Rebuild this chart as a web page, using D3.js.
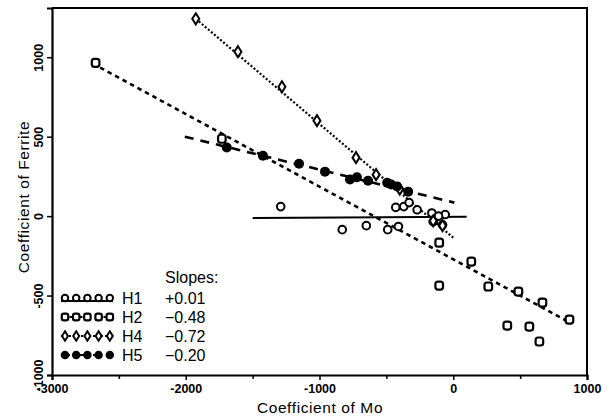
<!DOCTYPE html>
<html><head><meta charset="utf-8">
<script src="https://cdn.jsdelivr.net/npm/d3@7"></script>
<style>body{margin:0;background:#fff}svg{display:block}text{font-family:"Liberation Sans",Arial,sans-serif;fill:#000}</style>
</head><body><svg id="c" width="612" height="418"></svg>
<script>
// ---- data ----
const xTicks = [-3000, -2000, -1000, 0, 1000];
const xMinorTicks = [-2500, -1500, -500, 500];
const yTicks = [-1000, -500, 0, 500, 1000];
const seriesNames = ["H1", "H2", "H4", "H5"];
const slopeLabels = ["+0.01", "-0.48", "-0.72", "-0.20"];

const h1Mo = [-1290, -830, -650, -490, -410, -430, -370, -330, -270, -160, -60, -150, -80, -110];
const h1Fe = [60, -85, -60, -85, -65, 55, 60, 85, 40, 20, 10, -35, -55, 0];

const h2Mo = [-2674, -1730, -105, -105, 135, 262, 487, 667, 404, 569, 644, 869];
const h2Fe = [965, 487, -167, -437, -286, -443, -475, -544, -689, -695, -789, -651];

const h4Mo = [-1925, -1610, -1281, -1019, -727, -577, -400, -150, -80];
const h4Fe = [1242, 1035, 814, 601, 368, 261, 170, -30, -60];

const h5Mo = [-1693, -1423, -1153, -959, -772, -720, -637, -494, -464, -420, -337];
const h5Fe = [432, 380, 330, 280, 230, 245, 223, 210, 199, 186, 154];

// fitted lines: [startMo, endMo], [startFe, endFe]
const fitH1Mo = [-1500, 100], fitH1Fe = [-12, -4];
const fitH2Mo = [-2640, 850], fitH2Fe = [935, -660];
const fitH4Mo = [-1925, 0],   fitH4Fe = [1242, -136];
const fitH5Mo = [-2007, 8],   fitH5Fe = [500, 85];

// ---- drawing ----
const svg = d3.select("#c");
const L = 52, R = 587, T = 8, B = 375;
const x = d3.scaleLinear().domain([-3000, 1000]).range([L, R]);
const y = d3.scaleLinear().domain([-1000, 1310]).range([B, T]);

// frame
svg.append("path").attr("d", `M${L},${T}H${R}V${B}`).attr("fill","none").attr("stroke","#000").attr("stroke-width",2);

// x axis
const xa = svg.append("g").attr("transform", `translate(0,${B})`)
  .call(d3.axisBottom(x).tickValues(xTicks).tickSize(5).tickPadding(4).tickFormat(d => d3.format("d")(d).replace("−","-")));
xa.select(".domain").attr("stroke-width", 2.2);
xa.selectAll(".tick line").attr("stroke-width", 1.5);
xa.selectAll("text").style("font-size","12.5px").style("font-weight","bold").attr("fill","#000").attr("dy","0.75em");
const xm = svg.append("g").attr("transform", `translate(0,${B})`)
  .call(d3.axisBottom(x).tickValues(xMinorTicks).tickSize(4).tickFormat(""));
xm.select(".domain").remove();
xm.selectAll(".tick line").attr("stroke-width", 1.5);

// y axis
const ya = svg.append("g").attr("transform", `translate(${L},0)`)
  .call(d3.axisLeft(y).tickValues(yTicks).tickSize(5).tickFormat(""));
ya.select(".domain").attr("stroke-width", 2.2);
ya.selectAll(".tick line").attr("stroke-width", 1.5);
ya.selectAll(".tick").append("text")
  .attr("transform", "translate(-9,0) rotate(-90)")
  .attr("text-anchor", "middle").attr("fill","#000")
  .style("font-size","12.5px").style("font-weight","bold")
  .text(d => d3.format("d")(d).replace("−","-"));

// axis titles
svg.append("text").attr("x", 320).attr("y", 413).attr("text-anchor","middle").attr("fill","#000")
  .style("font-size","15.5px").style("letter-spacing","0.6px").text("Coefficient of Mo");
svg.append("text").attr("transform","translate(29,197) rotate(-90)").attr("text-anchor","middle").attr("fill","#000")
  .style("font-size","15.5px").style("letter-spacing","0.6px").text("Coefficient of Ferrite");

// fit lines
const dashes = ["", "4.5,4", "2,2", "9,7"];
const widths = [2, 2.6, 2.2, 2.6];
const fits = [[fitH1Mo, fitH1Fe], [fitH2Mo, fitH2Fe], [fitH4Mo, fitH4Fe], [fitH5Mo, fitH5Fe]];
const line = d3.line().x(d => x(d[0])).y(d => y(d[1]));
fits.forEach((f, i) => {
  svg.append("path").attr("d", line(f[0].map((m, j) => [m, f[1][j]])))
    .attr("fill","none").attr("stroke","#000").attr("stroke-width", widths[i])
    .attr("stroke-dasharray", dashes[i]);
});

// markers
function marker(g, kind, cx, cy, s) {
  s = s || 1;
  if (kind === 0) {
    g.append("circle").attr("cx",cx).attr("cy",cy).attr("r",3.8*s).attr("fill","#fff").attr("stroke","#000").attr("stroke-width",2);
  } else if (kind === 1) {
    g.append("rect").attr("x",cx-3.8*s).attr("y",cy-4*s).attr("width",7.6*s).attr("height",8*s).attr("rx",2.5*s)
      .attr("fill","#fff").attr("stroke","#000").attr("stroke-width",2.2);
  } else if (kind === 2) {
    g.append("path").attr("d",`M${cx},${cy-5.5*s}L${cx+3.5*s},${cy}L${cx},${cy+5.5*s}L${cx-3.5*s},${cy}Z`)
      .attr("fill","#fff").attr("stroke","#000").attr("stroke-width",2);
  } else {
    g.append("circle").attr("cx",cx).attr("cy",cy).attr("r",5*s).attr("fill","#000");
  }
}
const sets = [[h1Mo,h1Fe],[h2Mo,h2Fe],[h4Mo,h4Fe],[h5Mo,h5Fe]];
const pg = svg.append("g");
sets.forEach((s, k) => s[0].forEach((m, i) => marker(pg, k, x(m), y(s[1][i]))));

// legend
const lg = svg.append("g");
lg.append("text").attr("x",165).attr("y",283).attr("fill","#000").style("font-size","16px").text("Slopes:");
const rowY = [298, 317, 336, 355];
seriesNames.forEach((n, i) => {
  const cy = rowY[i];
  lg.append("line").attr("x1",61).attr("x2",113).attr("y1",cy+(i===0?3:0)).attr("y2",cy+(i===0?3:0))
    .attr("stroke","#000").attr("stroke-width",2).attr("stroke-dasharray",dashes[i]);
  for (let j = 0; j < 5; j++) marker(lg, i, 65 + j*11.2, cy, 0.85);
  lg.append("text").attr("x",122).attr("y",cy+5.5).attr("fill","#000").style("font-size","16px").text(n);
  lg.append("text").attr("x",165).attr("y",cy+5.5).attr("fill","#000").style("font-size","16px").text(slopeLabels[i].replace("-","\u2212"));
});
</script></body></html>
